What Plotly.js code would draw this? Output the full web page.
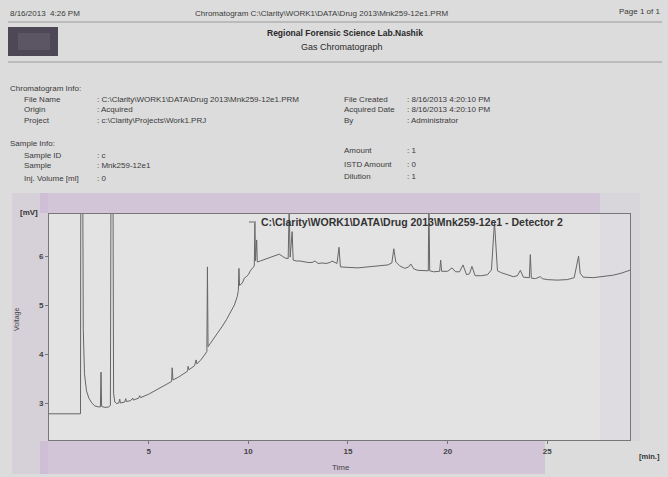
<!DOCTYPE html>
<html><head><meta charset="utf-8">
<script src="https://cdn.plot.ly/plotly-3.0.1.min.js"></script>
<style>html,body{margin:0;padding:0;background:#dcdcdc;}#chart{width:668px;height:477px;}</style>
</head><body><div id="chart"></div>
<script>
// Chromatogram trace (time in min, signal in mV); off-scale peaks exceed the axis and are clipped
var timeMin = [0,1.58,1.60,1.68,1.72,1.78,1.88,2.0,2.15,2.3,2.5,2.58,2.61,2.64,2.8,3.0,3.08,3.12,3.2,3.24,3.3,3.4,3.5,3.55,3.58,3.8,3.85,3.88,4.1,4.2,4.23,4.5,4.55,4.6,5.0,5.3,5.6,5.9,6.15,6.18,6.22,6.5,6.8,6.95,6.98,7.02,7.3,7.38,7.42,7.6,7.8,7.92,7.95,7.98,8.1,8.3,8.5,8.7,8.9,9.1,9.3,9.45,9.5,9.53,9.56,9.7,9.8,9.9,10.0,10.1,10.2,10.3,10.33,10.36,10.42,10.45,10.6,10.8,11.0,11.2,11.4,11.55,11.7,11.85,12.0,12.05,12.1,12.2,12.25,12.4,12.6,12.8,13.0,13.2,13.35,13.5,13.7,13.9,14.1,14.2,14.3,14.45,14.55,14.62,15.0,15.5,16.0,16.5,17.0,17.2,17.3,17.4,17.6,17.85,18.05,18.15,18.3,18.5,18.9,19.03,19.06,19.1,19.3,19.6,19.65,19.7,20.0,20.22,20.4,20.6,20.77,20.95,21.1,21.22,21.38,21.7,22.0,22.2,22.35,22.5,22.7,23.0,23.3,23.5,23.65,23.8,24.1,24.15,24.2,24.4,24.65,24.75,25.0,25.5,26.0,26.35,26.5,26.57,26.65,26.8,27.3,27.8,28.3,28.7,29.0,29.2];
var voltage = [2.78,2.78,9,9,4.5,3.6,3.25,3.1,3.0,2.94,2.92,2.92,3.63,2.93,2.91,2.92,2.95,9,9,3.2,3.02,2.99,3.0,3.08,3.0,3.02,3.09,3.03,3.05,3.1,3.06,3.1,3.15,3.11,3.18,3.25,3.31,3.38,3.44,3.72,3.47,3.53,3.6,3.65,3.75,3.68,3.76,3.88,3.8,3.87,3.98,4.05,5.78,4.15,4.22,4.33,4.45,4.57,4.7,4.85,5.0,5.18,5.3,5.75,5.4,5.45,5.55,5.58,5.62,5.7,5.75,5.8,6.68,5.9,6.33,5.88,5.9,5.93,5.95,5.98,6.02,6.04,6.0,5.96,5.95,7.0,5.98,6.5,5.92,5.9,5.9,5.88,5.87,5.87,5.9,5.85,5.86,5.85,5.87,5.9,5.88,5.85,6.18,5.78,5.77,5.76,5.78,5.8,5.82,5.86,6.15,5.88,5.8,5.75,5.78,5.84,5.74,5.71,5.70,5.7,7.2,5.7,5.68,5.69,5.92,5.69,5.69,5.76,5.68,5.68,5.82,5.62,5.64,5.79,5.6,5.6,5.62,5.72,6.7,5.7,5.66,5.62,5.58,5.6,5.71,5.57,5.56,6.03,5.55,5.54,5.58,5.54,5.52,5.51,5.52,5.56,5.9,6.0,5.65,5.57,5.56,5.58,5.61,5.65,5.70,5.72];
var xTickVals = [5,10,15,20,25];
var yTickVals = [3,4,5,6];
var traceName = "C:\\Clarity\\WORK1\\DATA\\Drug 2013\\Mnk259-12e1 - Detector 2";

var L=49, R=38, T=214, B=37, W=668, H=477;
var PW=W-L-R, PH=H-T-B;
function px(x){return (x-L)/PW;}
function py(y){return (H-B-y)/PH;}

var txt='#3a3a3a', F='Liberation Sans, Arial, sans-serif';
function ann(x,y,text,opts){
  var a={xref:'paper',yref:'paper',x:px(x),y:py(y),text:text,showarrow:false,xanchor:'left',yanchor:'middle',
    font:{family:F,size:8,color:txt}};
  for(var k in opts){a[k]=opts[k];}
  return a;
}
var anns=[
  ann(8,13,'8/16/2013  4:26 PM'),
  ann(321,13,'Chromatogram C:\\Clarity\\WORK1\\DATA\\Drug 2013\\Mnk259-12e1.PRM',{xanchor:'center'}),
  ann(662,11,'Page 1 of 1',{xanchor:'right'}),
  ann(345,33,'Regional Forensic Science Lab.Nashik',{xanchor:'center',font:{family:F,size:8.5,color:'#2a2a2a',weight:'bold'}}),
  ann(342,47,'Gas Chromatograph',{xanchor:'center',font:{family:F,size:9,color:'#2a2a2a'}}),
  ann(8,89,'Chromatogram Info:'),
  ann(22,99,'File Name'),ann(95,99,': C:\\Clarity\\WORK1\\DATA\\Drug 2013\\Mnk259-12e1.PRM'),
  ann(22,109,'Origin'),ann(95,109,': Acquired'),
  ann(22,120,'Project'),ann(95,120,': c:\\Clarity\\Projects\\Work1.PRJ'),
  ann(342,99,'File Created'),ann(405,99,': 8/16/2013 4:20:10 PM'),
  ann(342,109,'Acquired Date'),ann(405,109,': 8/16/2013 4:20:10 PM'),
  ann(342,120,'By'),ann(405,120,': Administrator'),
  ann(8,143,'Sample Info:'),
  ann(22,155,'Sample ID'),ann(95,155,': c'),
  ann(22,166,'Sample'),ann(95,166,': Mnk259-12e1'),
  ann(22,178,'Inj. Volume [ml]'),ann(95,178,': 0'),
  ann(342,151,'Amount'),ann(405,151,': 1'),
  ann(342,164,'ISTD Amount'),ann(405,164,': 0'),
  ann(342,176,'Dilution'),ann(405,176,': 1'),
  ann(40,212,'[mV]',{xanchor:'right',font:{family:F,size:8,color:'#333',weight:'bold'}}),
  ann(17,320,'Voltage',{xanchor:'center',textangle:-90,font:{family:F,size:7,color:'#444'}}),
  ann(341,467,'Time',{xanchor:'center',font:{family:F,size:8,color:'#444'}}),
  ann(662,456,'[min.]',{xanchor:'right',font:{family:F,size:7.5,color:'#333',weight:'bold'}}),
  ann(259,222,traceName,{font:{family:F,size:10.5,color:'#333',weight:'bold'}})
];
function rect(x0,y0,x1,y1,fill,layer){return {type:'rect',xref:'paper',yref:'paper',x0:px(x0),x1:px(x1),y0:py(y1),y1:py(y0),fillcolor:fill,line:{width:0},layer:layer||'below'};}
function hline(x0,x1,y,c){return {type:'line',xref:'paper',yref:'paper',x0:px(x0),x1:px(x1),y0:py(y),y1:py(y),line:{color:c,width:1},layer:'below'};}
var shapes=[
  rect(12,193,48,474,'rgba(195,170,210,0.22)'),
  rect(40,193,600,213,'rgba(195,165,210,0.42)'),
  rect(40,441,545,474,'rgba(195,165,210,0.42)'),
  rect(600,193,640,441,'rgba(200,180,215,0.15)'),
  rect(8,27,58,56,'#4e4756'),
  rect(18,33,50,50,'#5c5564'),
  hline(8,662,22,'#9a9a9a'),
  hline(8,662,62,'#9a9a9a'),
  {type:'line',xref:'paper',yref:'paper',x0:px(249),x1:px(256),y0:py(222),y1:py(222),line:{color:'#666',width:1},layer:'above'}
];

var trace={x:timeMin,y:voltage,type:'scatter',mode:'lines',name:traceName,line:{color:'#666666',width:1},hoverinfo:'skip'};
var layout={
  width:W,height:H,margin:{l:L,r:R,t:T,b:B,pad:0},
  paper_bgcolor:'#dcdcdc',plot_bgcolor:'#e3e3e3',showlegend:false,
  xaxis:{range:[0,29.15],tickvals:xTickVals,showgrid:false,zeroline:false,showline:true,mirror:true,linecolor:'#777',linewidth:1,
    ticks:'outside',ticklen:3,tickcolor:'#777',tickfont:{family:F,size:8,color:'#444',weight:'bold'}},
  yaxis:{range:[2.245,6.86],tickvals:yTickVals,showgrid:false,zeroline:false,showline:true,mirror:true,linecolor:'#777',linewidth:1,
    ticks:'outside',ticklen:3,tickcolor:'#777',tickfont:{family:F,size:8,color:'#444',weight:'bold'}},
  annotations:anns,shapes:shapes
};
Plotly.newPlot('chart',[trace],layout,{staticPlot:true,displayModeBar:false});
</script></body></html>
